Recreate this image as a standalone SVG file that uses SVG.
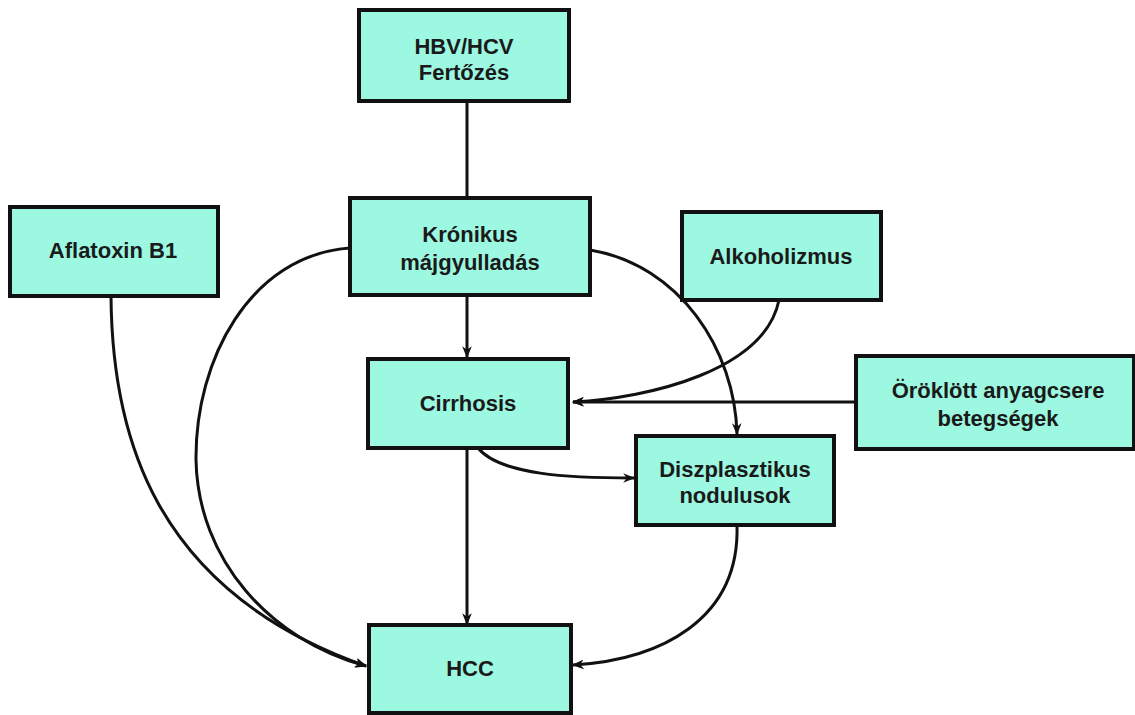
<svg xmlns="http://www.w3.org/2000/svg" width="1135" height="715" viewBox="0 0 1135 715">
<defs>
<style>
.box{fill:#9cf8e1;stroke:#111;stroke-width:4}
.t{font-family:"Liberation Sans",Arial,sans-serif;font-weight:bold;font-size:22px;fill:#1a1a1a;text-anchor:middle}
.c{fill:none;stroke:#111;stroke-width:3}
</style>
<marker id="ah" viewBox="0 0 10 10" refX="9" refY="5" markerWidth="4" markerHeight="4" orient="auto" markerUnits="strokeWidth">
<path d="M0,1 L10,5 L0,9 L3,5 z" fill="#111"/>
</marker>
</defs>
<rect width="1135" height="715" fill="#fff"/>
<g id="connectors">
<path class="c" d="M467,101 L467,197"/>
<path class="c" d="M467,295 L467,357" marker-end="url(#ah)"/>
<path class="c" d="M467,448 L467,624" marker-end="url(#ah)"/>
<path class="c" d="M478,448 C 500,475 570,478 634,478" marker-end="url(#ah)"/>
<path class="c" d="M590,250 C 680,265 735,350 737,434" marker-end="url(#ah)"/>
<path class="c" d="M779,300 C 765,370 650,398 573,402" marker-end="url(#ah)"/>
<path class="c" d="M856,402 L573,402" marker-end="url(#ah)"/>
<path class="c" d="M350,248 C 250,255 195,360 196,460 C 198,560 270,640 366,666" marker-end="url(#ah)"/>
<path class="c" d="M111,296 C 112,430 150,590 366,666" marker-end="url(#ah)"/>
<path class="c" d="M737,525 C 740,620 660,660 573,665" marker-end="url(#ah)"/>
</g>
<g id="hbv"><rect class="box" x="359" y="10" width="210" height="91"/><text class="t" x="464" y="54">HBV/HCV</text><text class="t" x="464" y="80">Fertőzés</text></g>
<g id="kronikus"><rect class="box" x="350" y="198" width="240" height="97"/><text class="t" x="470" y="242">Krónikus</text><text class="t" x="470" y="270">májgyulladás</text></g>
<g id="aflatoxin"><rect class="box" x="10" y="207" width="208" height="89"/><text class="t" x="113" y="258">Aflatoxin B1</text></g>
<g id="alkoholizmus"><rect class="box" x="682" y="212" width="199" height="88"/><text class="t" x="781" y="264">Alkoholizmus</text></g>
<g id="cirrhosis"><rect class="box" x="368" y="359" width="200" height="89"/><text class="t" x="468" y="411">Cirrhosis</text></g>
<g id="oroklott"><rect class="box" x="856" y="356" width="278" height="93"/><text class="t" x="998" y="398">Öröklött anyagcsere</text><text class="t" x="998" y="426">betegségek</text></g>
<g id="diszplasztikus"><rect class="box" x="636" y="436" width="198" height="89"/><text class="t" x="735" y="477">Diszplasztikus</text><text class="t" x="735" y="503">nodulusok</text></g>
<g id="hcc"><rect class="box" x="369" y="625" width="202" height="88"/><text class="t" x="470" y="676">HCC</text></g>
</svg>
